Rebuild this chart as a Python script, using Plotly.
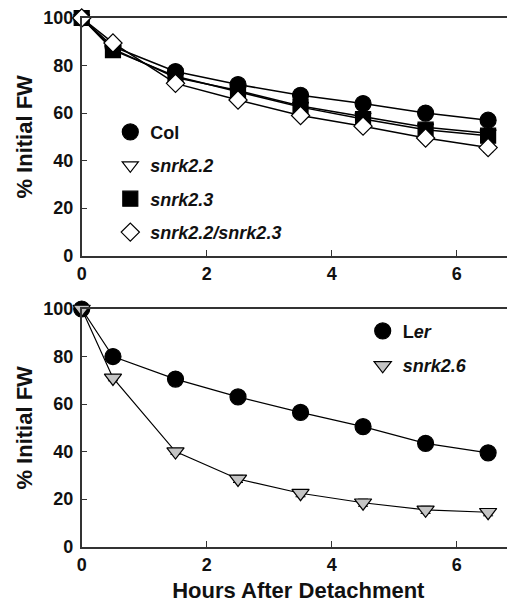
import plotly.graph_objects as go

hours = [0, 0.5, 1.5, 2.5, 3.5, 4.5, 5.5, 6.5]

# Top panel
col = [100, 88, 77.5, 72, 67.5, 64, 60, 57]
snrk22 = [100, 87, 75, 69.5, 63, 58.5, 54, 51.5]
snrk23 = [100, 86.5, 75.5, 69, 62.5, 57.5, 53, 50.5]
snrk22_23 = [100, 89.5, 72.5, 65.5, 59, 54.5, 49.5, 45.5]
err_top = [0, 1, 1, 1.2, 1.5, 1.5, 1.8, 2]

# Bottom panel
ler = [100, 80, 70.5, 63, 56.5, 50.5, 43.5, 39.5]
snrk26 = [100, 71, 40, 28.5, 22.5, 18.5, 15.5, 14.5]
err_bot = [0, 1.2, 1.2, 1.5, 1.5, 1.5, 1.5, 1.5]

x_ticks = [0, 2, 4, 6]
y_ticks = [0, 20, 40, 60, 80, 100]

FONT = "Liberation Sans, Arial, sans-serif"

top_series = [
    ("<b>Col</b>", col, "circle", "black", 16),
    ("<b><i>snrk2.2</i></b>", snrk22, "triangle-down", "white", 14),
    ("<b><i>snrk2.3</i></b>", snrk23, "square", "black", 15),
    ("<b><i>snrk2.2/snrk2.3</i></b>", snrk22_23, "diamond", "white", 14),
]
bot_series = [
    ("<b>L<i>er</i></b>", ler, "circle", "black", 16),
    ("<b><i>snrk2.6</i></b>", snrk26, "triangle-down", "#c4c4c4", 15),
]

fig = go.Figure()

for name, ys, sym, fill, sz in top_series:
    fig.add_trace(go.Scatter(x=hours, y=ys, mode="lines", line=dict(color="black", width=1.5),
                             showlegend=False, cliponaxis=False, xaxis="x", yaxis="y", hoverinfo="skip"))
for i, (name, ys, sym, fill, sz) in enumerate(top_series):
    fig.add_trace(go.Scatter(x=hours, y=ys, mode="markers", name=name, legend="legend",
                             legendgroup="t%d" % i,
                             marker=dict(symbol=sym, size=sz, color=fill, line=dict(color="black", width=1.2)),
                             error_y=dict(type="data", array=err_top, color="black", thickness=1, width=5),
                             cliponaxis=False, xaxis="x", yaxis="y"))

for name, ys, sym, fill, sz in bot_series:
    fig.add_trace(go.Scatter(x=hours, y=ys, mode="lines", line=dict(color="black", width=1.2),
                             showlegend=False, cliponaxis=False, xaxis="x2", yaxis="y2", hoverinfo="skip"))
for i, (name, ys, sym, fill, sz) in enumerate(bot_series):
    fig.add_trace(go.Scatter(x=hours, y=ys, mode="markers", name=name, legend="legend2",
                             legendgroup="b%d" % i,
                             marker=dict(symbol=sym, size=sz, color=fill, line=dict(color="black", width=1.2)),
                             error_y=dict(type="data", array=err_bot, color="black", thickness=1, width=5),
                             cliponaxis=False, xaxis="x2", yaxis="y2"))

axis_common = dict(
    showgrid=False, zeroline=False, showline=True, linecolor="#333333", linewidth=1.5,
    ticks="inside", ticklen=6, tickwidth=1.2, tickcolor="#333333", automargin=False,
    tickfont=dict(family=FONT, size=18, color="#111111", weight="bold"),
)

W, H = 507, 597
xdom = [73.7 / W, 1.0]
title_font = dict(family=FONT, size=22, weight="bold")
fig.update_layout(
    width=W, height=H,
    margin=dict(l=0, r=0, t=0, b=0, autoexpand=False),
    paper_bgcolor="white", plot_bgcolor="white",
    font=dict(family=FONT, color="#111111"),
    xaxis=dict(domain=xdom, range=[0, 6.93], tickvals=x_ticks, mirror=True, anchor="y",
               ticklabelstandoff=1, **axis_common),
    yaxis=dict(domain=[1 - 247.7 / H, 1 - 10 / H], range=[0, 100], tickvals=y_ticks, anchor="x",
               ticklabelstandoff=3,
               title=dict(text="% Initial FW", font=title_font, standoff=5),
               **axis_common),
    xaxis2=dict(domain=xdom, range=[0, 6.93], tickvals=x_ticks, mirror=True, anchor="y2",
                ticklabelstandoff=1,
                title=dict(text="Hours After Detachment", font=title_font, standoff=9),
                **axis_common),
    yaxis2=dict(domain=[1 - 538.7 / H, 1 - 301 / H], range=[0, 100], tickvals=y_ticks, anchor="x2",
                ticklabelstandoff=3,
                title=dict(text="% Initial FW", font=title_font, standoff=5),
                **axis_common),
    legend=dict(x=102.3 / W, y=1 - 105.7 / H, xanchor="left", yanchor="top",
                font=dict(family=FONT, size=18, color="#111111"),
                traceorder="grouped", tracegroupgap=7, bgcolor="rgba(0,0,0,0)"),
    legend2=dict(x=354.7 / W, y=1 - 304.7 / H, xanchor="left", yanchor="top",
                 font=dict(family=FONT, size=18, color="#111111"),
                 traceorder="grouped", tracegroupgap=8, bgcolor="rgba(0,0,0,0)"),
)

fig.write_html("out.html")
